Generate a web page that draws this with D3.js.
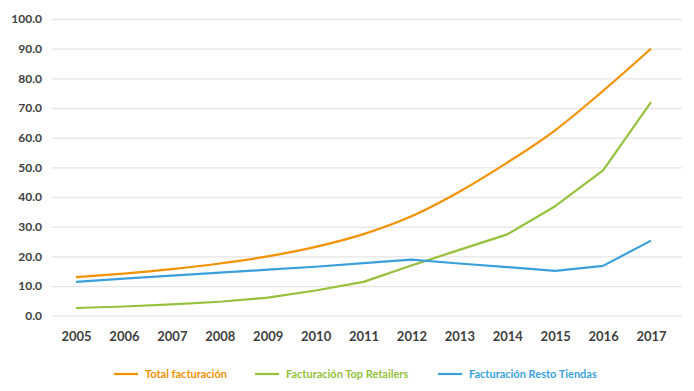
<!DOCTYPE html>
<html>
<head>
<meta charset="utf-8">
<script src="https://cdn.jsdelivr.net/npm/d3@7"></script>
<style>
  body { margin: 0; background: #fff; }
  svg { display: block; font-family: Lato, sans-serif; }
</style>
</head>
<body>
<div id="chart"></div>
<script>
// data
const years = [2005, 2006, 2007, 2008, 2009, 2010, 2011, 2012, 2013, 2014, 2015, 2016, 2017];
const totalFacturacion = [13.0, 14.2, 15.7, 17.6, 20.0, 23.2, 27.5, 33.5, 41.8, 51.6, 62.5, 75.8, 90.0];
const topRetailers = [2.6, 3.1, 3.8, 4.7, 6.1, 8.5, 11.4, 16.9, 22.2, 27.4, 36.9, 49.0, 72.0];
const restoTiendas = [11.4, 12.5, 13.5, 14.5, 15.5, 16.5, 17.7, 18.9, 17.6, 16.4, 15.1, 16.8, 25.3];
const yTicks = [0, 10, 20, 30, 40, 50, 60, 70, 80, 90, 100];

const series = [
    { name: "Total facturación", values: totalFacturacion, color: "#F39200", curve: d3.curveMonotoneX },
    { name: "Facturación Top Retailers", values: topRetailers, color: "#95C13C", curve: d3.curveLinear },
    { name: "Facturación Resto Tiendas", values: restoTiendas, color: "#3A9FDB", curve: d3.curveLinear }
];

const width = 694;
const height = 391;

const x = d3.scaleLinear()
    .domain([2005, 2017])
    .range([76, 651]);

const y = d3.scaleLinear()
    .domain([0, 100])
    .range([315.7, 19]);

const svg = d3.select("#chart").append("svg")
    .attr("width", width)
    .attr("height", height);

// horizontal grid + y labels
svg.append("g")
    .attr("transform", "translate(52,0)")
    .call(d3.axisLeft(y).tickValues(yTicks).tickFormat(d => d.toFixed(1)).tickSize(0).tickPadding(10))
    .call(g => g.select(".domain").remove())
    .call(g => g.selectAll(".tick line").clone()
        .attr("x2", 630)
        .attr("stroke", "#e5e5e5")
        .attr("stroke-width", 1.3))
    .call(g => g.selectAll("text")
        .attr("fill", "#404040")
        .attr("font-family", "Lato, sans-serif")
        .attr("font-weight", "bold")
        .attr("font-size", 12));

// x labels
svg.append("g")
    .attr("transform", "translate(0,325)")
    .call(d3.axisBottom(x).tickValues(years).tickFormat(d3.format("d")).tickSize(0).tickPadding(7))
    .call(g => g.select(".domain").remove())
    .call(g => g.selectAll("text")
        .attr("fill", "#404040")
        .attr("font-family", "Lato, sans-serif")
        .attr("font-weight", "bold")
        .attr("font-size", 13));

svg.append("g")
    .attr("fill", "none")
    .selectAll("path")
    .data(series)
    .join("path")
    .attr("stroke", d => d.color)
    .attr("stroke-width", 2.2)
    .attr("stroke-linejoin", "round")
    .attr("d", d => d3.line()
        .x((v, i) => x(years[i]))
        .y(v => y(v))
        .curve(d.curve)(d.values));

// legend
const legendX = [114, 255, 438];
const legend = svg.selectAll(".legend")
    .data(series)
    .join("g")
    .attr("class", "legend")
    .attr("transform", (d, i) => `translate(${legendX[i]},374)`);

legend.append("line")
    .attr("x1", 0)
    .attr("x2", 24)
    .attr("stroke", d => d.color)
    .attr("stroke-width", 2.2);

legend.append("text")
    .attr("x", 31)
    .attr("dy", "0.35em")
    .attr("fill", d => d.color)
    .attr("font-weight", "bold")
    .attr("font-size", 11)
    .text(d => d.name);
</script>
</body>
</html>
